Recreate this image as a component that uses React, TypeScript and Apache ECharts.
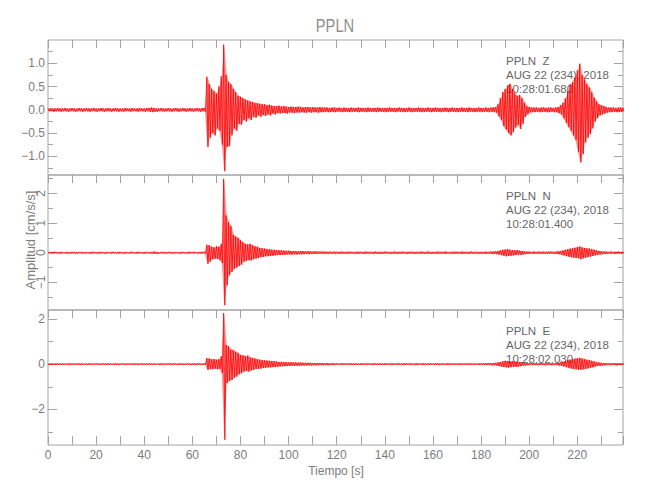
import React, { useEffect, useRef } from "react";
import * as echarts from "echarts";

// One bin per second (t = 0 .. 239 s): peak positive (HI) and peak negative (LO) amplitude, cm/s/s
const Z_HI = [
  0.03,0.04,0.03,0.03,0.04,0.03,0.03,0.04,0.03,0.03,0.04,0.03,0.03,0.04,0.03,0.03,0.04,0.03,0.03,0.04,
  0.03,0.03,0.04,0.03,0.03,0.04,0.03,0.03,0.04,0.03,0.03,0.03,0.04,0.03,0.03,0.04,0.03,0.03,0.04,0.03,
  0.03,0.04,0.04,0.05,0.04,0.03,0.03,0.04,0.03,0.03,0.04,0.03,0.03,0.04,0.03,0.03,0.04,0.03,0.03,0.04,
  0.03,0.03,0.04,0.03,0.04,0.04,0.71,0.55,0.45,0.40,0.35,0.50,0.72,1.40,0.75,0.60,0.55,0.45,0.38,0.30,
  0.28,0.25,0.22,0.20,0.18,0.17,0.15,0.14,0.13,0.12,0.12,0.10,0.11,0.09,0.08,0.08,0.09,0.07,0.08,0.07,
  0.06,0.07,0.06,0.06,0.07,0.06,0.05,0.06,0.06,0.05,0.06,0.05,0.05,0.06,0.05,0.05,0.05,0.04,0.05,0.05,
  0.04,0.05,0.04,0.05,0.04,0.04,0.05,0.04,0.04,0.05,0.04,0.04,0.04,0.05,0.04,0.04,0.04,0.05,0.04,0.04,
  0.04,0.04,0.05,0.04,0.04,0.04,0.05,0.04,0.04,0.04,0.05,0.04,0.04,0.04,0.05,0.04,0.04,0.04,0.05,0.04,
  0.04,0.05,0.04,0.04,0.04,0.05,0.04,0.04,0.05,0.04,0.04,0.04,0.05,0.04,0.04,0.05,0.04,0.04,0.04,0.05,
  0.04,0.04,0.05,0.04,0.05,0.05,0.06,0.12,0.25,0.38,0.45,0.52,0.56,0.45,0.35,0.30,0.32,0.25,0.15,0.08,
  0.06,0.05,0.05,0.05,0.04,0.05,0.05,0.04,0.05,0.05,0.04,0.05,0.06,0.10,0.15,0.25,0.40,0.55,0.60,0.70,
  0.85,0.99,0.75,0.65,0.55,0.48,0.38,0.26,0.18,0.12,0.10,0.08,0.06,0.05,0.05,0.05,0.04,0.05,0.05,0.04,
];
const Z_LO = [
  -0.03,-0.03,-0.04,-0.03,-0.03,-0.04,-0.03,-0.03,-0.04,-0.03,-0.03,-0.04,-0.03,-0.03,-0.04,-0.03,-0.03,-0.04,-0.03,-0.03,
  -0.04,-0.03,-0.03,-0.04,-0.03,-0.03,-0.04,-0.03,-0.03,-0.04,-0.03,-0.04,-0.03,-0.03,-0.04,-0.03,-0.03,-0.04,-0.03,-0.03,
  -0.04,-0.03,-0.04,-0.05,-0.04,-0.04,-0.03,-0.03,-0.04,-0.03,-0.03,-0.04,-0.03,-0.03,-0.04,-0.03,-0.03,-0.04,-0.03,-0.03,
  -0.04,-0.03,-0.03,-0.04,-0.03,-0.04,-0.80,-0.60,-0.50,-0.55,-0.40,-0.45,-0.75,-1.32,-0.80,-0.78,-0.55,-0.40,-0.45,-0.30,
  -0.32,-0.22,-0.25,-0.18,-0.22,-0.15,-0.17,-0.12,-0.15,-0.11,-0.13,-0.10,-0.12,-0.08,-0.10,-0.07,-0.08,-0.07,-0.07,-0.08,
  -0.06,-0.06,-0.07,-0.06,-0.06,-0.05,-0.06,-0.06,-0.05,-0.06,-0.05,-0.05,-0.06,-0.05,-0.05,-0.04,-0.05,-0.05,-0.04,-0.05,
  -0.04,-0.04,-0.05,-0.04,-0.04,-0.05,-0.04,-0.04,-0.04,-0.05,-0.04,-0.04,-0.05,-0.04,-0.04,-0.04,-0.05,-0.04,-0.04,-0.04,
  -0.05,-0.04,-0.04,-0.04,-0.05,-0.04,-0.04,-0.04,-0.05,-0.04,-0.04,-0.05,-0.04,-0.04,-0.04,-0.05,-0.04,-0.04,-0.04,-0.05,
  -0.04,-0.04,-0.04,-0.05,-0.04,-0.04,-0.05,-0.04,-0.04,-0.04,-0.05,-0.04,-0.04,-0.04,-0.05,-0.04,-0.04,-0.05,-0.04,-0.04,
  -0.05,-0.04,-0.04,-0.05,-0.04,-0.05,-0.06,-0.14,-0.22,-0.35,-0.42,-0.50,-0.55,-0.48,-0.38,-0.32,-0.41,-0.30,-0.15,-0.10,
  -0.06,-0.05,-0.05,-0.04,-0.05,-0.05,-0.04,-0.05,-0.05,-0.04,-0.05,-0.05,-0.07,-0.10,-0.18,-0.28,-0.37,-0.45,-0.55,-0.65,
  -0.90,-1.13,-0.95,-0.70,-0.60,-0.52,-0.40,-0.25,-0.18,-0.12,-0.10,-0.08,-0.06,-0.05,-0.05,-0.04,-0.05,-0.05,-0.04,-0.05,
];

const N_HI = [
  0.03,0.02,0.03,0.03,0.02,0.03,0.03,0.02,0.03,0.02,0.03,0.03,0.02,0.03,0.03,0.02,0.03,0.02,0.03,0.03,
  0.02,0.03,0.03,0.02,0.03,0.02,0.03,0.03,0.02,0.03,0.03,0.02,0.03,0.02,0.03,0.03,0.02,0.03,0.03,0.02,
  0.03,0.03,0.02,0.03,0.04,0.03,0.02,0.03,0.03,0.02,0.03,0.03,0.02,0.03,0.02,0.03,0.03,0.02,0.03,0.03,
  0.03,0.03,0.02,0.03,0.03,0.03,0.27,0.25,0.20,0.18,0.22,0.20,0.30,2.49,1.26,1.03,0.90,0.60,0.55,0.50,
  0.42,0.35,0.30,0.28,0.30,0.25,0.22,0.20,0.16,0.15,0.14,0.12,0.12,0.10,0.10,0.09,0.08,0.08,0.07,0.07,
  0.07,0.06,0.06,0.06,0.05,0.06,0.05,0.05,0.05,0.05,0.04,0.05,0.04,0.04,0.04,0.04,0.03,0.04,0.03,0.04,
  0.03,0.03,0.04,0.03,0.03,0.04,0.03,0.03,0.03,0.04,0.03,0.03,0.04,0.03,0.03,0.03,0.04,0.03,0.03,0.03,
  0.04,0.03,0.03,0.03,0.04,0.03,0.03,0.04,0.03,0.03,0.03,0.04,0.03,0.03,0.03,0.04,0.03,0.03,0.04,0.03,
  0.03,0.03,0.04,0.03,0.03,0.04,0.03,0.03,0.03,0.04,0.03,0.03,0.04,0.03,0.03,0.03,0.04,0.03,0.03,0.03,
  0.03,0.03,0.04,0.03,0.04,0.04,0.05,0.06,0.08,0.10,0.11,0.12,0.10,0.09,0.08,0.09,0.07,0.06,0.05,0.04,
  0.04,0.03,0.04,0.03,0.04,0.03,0.04,0.03,0.04,0.04,0.03,0.04,0.05,0.06,0.08,0.10,0.12,0.14,0.15,0.17,
  0.19,0.21,0.18,0.16,0.15,0.14,0.12,0.10,0.08,0.06,0.05,0.04,0.04,0.03,0.04,0.03,0.03,0.04,0.03,0.03,
];
const N_LO = [
  -0.02,-0.03,-0.03,-0.02,-0.03,-0.03,-0.02,-0.03,-0.03,-0.03,-0.02,-0.03,-0.03,-0.02,-0.03,-0.03,-0.02,-0.03,-0.03,-0.02,
  -0.03,-0.03,-0.02,-0.03,-0.03,-0.02,-0.03,-0.02,-0.03,-0.03,-0.02,-0.03,-0.03,-0.02,-0.03,-0.02,-0.03,-0.03,-0.02,-0.03,
  -0.03,-0.02,-0.03,-0.03,-0.03,-0.04,-0.03,-0.02,-0.03,-0.03,-0.02,-0.03,-0.03,-0.02,-0.03,-0.03,-0.02,-0.03,-0.03,-0.02,
  -0.03,-0.02,-0.03,-0.03,-0.02,-0.03,-0.37,-0.30,-0.22,-0.20,-0.20,-0.25,-0.35,-1.77,-1.10,-0.76,-0.65,-0.55,-0.50,-0.45,
  -0.40,-0.30,-0.28,-0.25,-0.26,-0.22,-0.20,-0.18,-0.15,-0.14,-0.12,-0.12,-0.11,-0.10,-0.09,-0.08,-0.08,-0.07,-0.07,-0.06,
  -0.06,-0.06,-0.05,-0.06,-0.05,-0.05,-0.05,-0.04,-0.05,-0.04,-0.04,-0.04,-0.04,-0.03,-0.04,-0.03,-0.04,-0.03,-0.03,-0.04,
  -0.03,-0.04,-0.03,-0.03,-0.04,-0.03,-0.03,-0.03,-0.04,-0.03,-0.03,-0.04,-0.03,-0.03,-0.03,-0.04,-0.03,-0.03,-0.04,-0.03,
  -0.03,-0.03,-0.04,-0.03,-0.03,-0.04,-0.03,-0.03,-0.03,-0.04,-0.03,-0.03,-0.04,-0.03,-0.03,-0.03,-0.04,-0.03,-0.03,-0.04,
  -0.03,-0.04,-0.03,-0.03,-0.03,-0.04,-0.03,-0.03,-0.04,-0.03,-0.03,-0.03,-0.04,-0.03,-0.03,-0.04,-0.03,-0.03,-0.03,-0.04,
  -0.03,-0.04,-0.03,-0.03,-0.04,-0.04,-0.05,-0.06,-0.08,-0.10,-0.12,-0.11,-0.10,-0.09,-0.08,-0.07,-0.07,-0.06,-0.05,-0.04,
  -0.03,-0.04,-0.03,-0.04,-0.03,-0.04,-0.03,-0.04,-0.03,-0.03,-0.04,-0.04,-0.05,-0.07,-0.09,-0.11,-0.13,-0.15,-0.16,-0.18,
  -0.18,-0.22,-0.19,-0.17,-0.15,-0.13,-0.11,-0.09,-0.07,-0.06,-0.05,-0.04,-0.04,-0.03,-0.03,-0.04,-0.03,-0.03,-0.04,-0.03,
];

const E_HI = [
  0.03,0.04,0.03,0.03,0.04,0.03,0.04,0.03,0.03,0.04,0.03,0.03,0.04,0.03,0.04,0.03,0.03,0.04,0.03,0.03,
  0.04,0.03,0.03,0.04,0.03,0.04,0.03,0.03,0.04,0.03,0.03,0.04,0.03,0.03,0.04,0.03,0.04,0.03,0.03,0.04,
  0.03,0.03,0.04,0.03,0.04,0.03,0.03,0.04,0.03,0.03,0.04,0.03,0.04,0.03,0.03,0.04,0.03,0.03,0.04,0.03,
  0.04,0.03,0.04,0.04,0.03,0.04,0.27,0.25,0.22,0.23,0.20,0.22,0.35,2.26,0.85,0.80,0.65,0.63,0.55,0.50,
  0.41,0.40,0.35,0.38,0.30,0.28,0.25,0.22,0.20,0.18,0.17,0.16,0.15,0.14,0.13,0.12,0.10,0.10,0.09,0.09,
  0.08,0.08,0.08,0.07,0.07,0.07,0.06,0.06,0.06,0.06,0.05,0.05,0.05,0.05,0.05,0.04,0.05,0.04,0.04,0.04,
  0.04,0.03,0.04,0.04,0.03,0.04,0.04,0.03,0.04,0.03,0.04,0.04,0.03,0.04,0.03,0.04,0.04,0.03,0.04,0.03,
  0.04,0.04,0.03,0.04,0.03,0.04,0.04,0.03,0.04,0.04,0.03,0.04,0.03,0.04,0.04,0.03,0.04,0.03,0.04,0.04,
  0.03,0.04,0.04,0.03,0.04,0.03,0.04,0.04,0.03,0.04,0.03,0.04,0.04,0.03,0.04,0.04,0.03,0.04,0.03,0.04,
  0.04,0.04,0.04,0.05,0.04,0.05,0.06,0.08,0.10,0.13,0.15,0.14,0.12,0.13,0.11,0.12,0.10,0.08,0.06,0.05,
  0.04,0.04,0.05,0.04,0.04,0.05,0.04,0.04,0.05,0.04,0.04,0.05,0.06,0.08,0.10,0.14,0.18,0.20,0.22,0.25,
  0.26,0.28,0.25,0.22,0.20,0.18,0.15,0.12,0.09,0.07,0.06,0.05,0.05,0.04,0.04,0.05,0.04,0.04,0.04,0.04,
];
const E_LO = [
  -0.04,-0.03,-0.03,-0.04,-0.03,-0.04,-0.03,-0.03,-0.04,-0.03,-0.04,-0.03,-0.03,-0.04,-0.03,-0.03,-0.04,-0.03,-0.04,-0.03,
  -0.03,-0.04,-0.03,-0.03,-0.04,-0.03,-0.03,-0.04,-0.03,-0.04,-0.03,-0.03,-0.04,-0.03,-0.03,-0.04,-0.03,-0.04,-0.03,-0.03,
  -0.04,-0.03,-0.03,-0.04,-0.03,-0.03,-0.04,-0.03,-0.04,-0.03,-0.03,-0.04,-0.03,-0.03,-0.04,-0.03,-0.04,-0.03,-0.03,-0.04,
  -0.04,-0.04,-0.03,-0.04,-0.04,-0.03,-0.25,-0.22,-0.22,-0.20,-0.22,-0.21,-0.40,-3.35,-0.84,-0.75,-0.70,-0.60,-0.55,-0.45,
  -0.40,-0.33,-0.30,-0.33,-0.28,-0.25,-0.22,-0.20,-0.20,-0.17,-0.16,-0.15,-0.14,-0.13,-0.12,-0.11,-0.10,-0.09,-0.09,-0.08,
  -0.08,-0.07,-0.08,-0.07,-0.07,-0.06,-0.06,-0.06,-0.05,-0.06,-0.05,-0.05,-0.05,-0.04,-0.05,-0.04,-0.05,-0.04,-0.04,-0.04,
  -0.03,-0.04,-0.04,-0.03,-0.04,-0.03,-0.04,-0.04,-0.03,-0.04,-0.04,-0.03,-0.04,-0.03,-0.04,-0.04,-0.03,-0.04,-0.03,-0.04,
  -0.04,-0.03,-0.04,-0.04,-0.03,-0.04,-0.03,-0.04,-0.04,-0.03,-0.04,-0.03,-0.04,-0.04,-0.03,-0.04,-0.04,-0.03,-0.04,-0.03,
  -0.04,-0.03,-0.04,-0.04,-0.03,-0.04,-0.04,-0.03,-0.04,-0.03,-0.04,-0.04,-0.03,-0.04,-0.03,-0.04,-0.04,-0.03,-0.04,-0.04,
  -0.03,-0.04,-0.04,-0.04,-0.05,-0.05,-0.06,-0.08,-0.11,-0.12,-0.14,-0.15,-0.13,-0.12,-0.12,-0.11,-0.09,-0.07,-0.06,-0.05,
  -0.04,-0.04,-0.04,-0.05,-0.04,-0.04,-0.05,-0.04,-0.04,-0.05,-0.04,-0.04,-0.06,-0.07,-0.10,-0.13,-0.16,-0.19,-0.21,-0.23,
  -0.24,-0.25,-0.23,-0.21,-0.19,-0.16,-0.14,-0.11,-0.08,-0.07,-0.06,-0.05,-0.04,-0.05,-0.04,-0.04,-0.05,-0.04,-0.04,-0.04,
];

// Axes
const X_MIN = 0;
const X_MAX = 239;
const X_TICK_STEP = 10;
const X_LABEL_STEP = 20;

const Z_RANGE = [-1.4, 1.5];
const N_RANGE = [-1.93, 2.62];
const E_RANGE = [-3.58, 2.4];
const Z_MAJOR = [-1, -0.5, 0, 0.5, 1];
const Z_MINOR = [-1.25, -0.75, -0.25, 0.25, 0.75, 1.25];
const N_MAJOR = [-1, 0, 1, 2];
const N_MINOR = [-1.5, -0.5, 0.5, 1.5, 2.5];
const E_MAJOR = [-2, 0, 2];
const E_MINOR = [-3, -1, 1];

const STATION = "PPLN";
const COMPONENTS = ["Z", "N", "E"];
const DATE_LINE = "AUG 22 (234), 2018";
const START_TIMES = ["10:28:01.680", "10:28:01.400", "10:28:02.030"];
const TITLE = "PPLN";
const Y_NAME = "Amplitud [cm/s/s]";
const X_NAME = "Tiempo [s]";

const FONT = "'Liberation Sans', 'DejaVu Sans', Arial, sans-serif";
const AXIS_GRAY = "#a3a3a3";
const LABEL_GRAY = "#7c7c7c";
const TRACE_RED = "#ff0000";

function trace(hi: number[], lo: number[]) {
  const out: number[][] = [];
  hi.forEach((h, i) => {
    out.push([i, h]);
    out.push([i + 0.5, lo[i]]);
  });
  return out;
}

const fmtSigned = (digits: number) => (v: number) => {
  const s = Math.abs(v).toFixed(digits);
  return v < 0 ? "\u2212" + s : s;
};

export default function App() {
  const ref = useRef<HTMLDivElement>(null);

  useEffect(() => {
    document.body.style.margin = "0";
    if (!ref.current) return;
    const chart = echarts.init(ref.current, undefined, { renderer: "svg" });

    const panels = [
      { hi: Z_HI, lo: Z_LO, range: Z_RANGE, major: Z_MAJOR, minor: Z_MINOR, fmt: fmtSigned(1), rot: 0, margin: 3 },
      { hi: N_HI, lo: N_LO, range: N_RANGE, major: N_MAJOR, minor: N_MINOR, fmt: fmtSigned(0), rot: 90, margin: 1 },
      { hi: E_HI, lo: E_LO, range: E_RANGE, major: E_MAJOR, minor: E_MINOR, fmt: fmtSigned(0), rot: 0, margin: 3 },
    ];
    const GRID_LEFT = 48;
    const GRID_W = 575;
    const GRID_TOP = 40;
    const GRID_H = 135;

    const grids = panels.map((_, g) => ({
      left: GRID_LEFT,
      top: GRID_TOP + g * GRID_H,
      width: GRID_W,
      height: GRID_H,
      show: true,
      borderColor: AXIS_GRAY,
      borderWidth: 1,
      backgroundColor: "transparent",
    }));

    const xBase = {
      type: "value",
      min: X_MIN,
      max: X_MAX,
      interval: X_TICK_STEP,
      axisLine: { show: false, onZero: false },
      splitLine: { show: false },
    };
    const xAxes: any[] = panels.map((_, g) => ({
      ...xBase,
      gridIndex: g,
      position: "top",
      axisTick: { inside: true, length: 8, lineStyle: { color: AXIS_GRAY } },
      axisLabel: { show: false },
    }));
    xAxes.push({
      ...xBase,
      gridIndex: 2,
      position: "bottom",
      axisTick: { inside: true, length: 9, lineStyle: { color: AXIS_GRAY } },
      axisLabel: {
        color: LABEL_GRAY,
        fontSize: 12,
        fontFamily: FONT,
        margin: 4,
        formatter: (v: number) => (v % X_LABEL_STEP === 0 ? String(v) : ""),
      },
    });

    const yAxes: any[] = [];
    panels.forEach((p, g) => {
      const base = {
        type: "value",
        gridIndex: g,
        min: p.range[0],
        max: p.range[1],
        axisLine: { show: false, onZero: false },
        splitLine: { show: false },
      };
      (["left", "right"] as const).forEach((pos) => {
        yAxes.push({
          ...base,
          position: pos,
          axisTick: { inside: true, length: 9, customValues: p.major, lineStyle: { color: AXIS_GRAY } },
          axisLabel:
            pos === "left"
              ? {
                  customValues: p.major,
                  formatter: p.fmt,
                  color: LABEL_GRAY,
                  fontSize: 12,
                  fontFamily: FONT,
                  margin: p.margin,
                  rotate: p.rot,
                }
              : { show: false },
        });
        yAxes.push({
          ...base,
          position: pos,
          axisTick: { inside: true, length: 5, customValues: p.minor, lineStyle: { color: AXIS_GRAY } },
          axisLabel: { show: false },
        });
      });
    });

    const series: any[] = [];
    panels.forEach((p, g) => {
      const xi = g === 2 ? 3 : g;
      const yi = g * 4;
      // envelope: upper and lower peak curves, each filled towards zero
      [p.hi, p.lo].forEach((arr) => {
        series.push({
          type: "line",
          xAxisIndex: xi,
          yAxisIndex: yi,
          data: arr.map((v, i) => [i + 0.25, v]),
          showSymbol: false,
          symbol: "none",
          silent: true,
          z: 2,
          lineStyle: { width: 0, opacity: 0 },
          areaStyle: { color: TRACE_RED, opacity: 0.42, origin: 0 },
        });
      });
      series.push({
        type: "line",
        xAxisIndex: xi,
        yAxisIndex: yi,
        data: trace(p.hi, p.lo),
        showSymbol: false,
        symbol: "none",
        silent: true,
        z: 3,
        lineStyle: { color: TRACE_RED, width: 0.8 },
      });
    });

    const texts: any[] = [
      {
        type: "text",
        x: 335,
        y: 25,
        scaleX: 0.82,
        z: 1,
        style: { text: TITLE, fill: "#8f8f8f", font: `18px ${FONT}`, align: "center", verticalAlign: "middle" },
      },
      {
        type: "text",
        x: 30,
        y: 240,
        rotation: Math.PI / 2,
        z: 1,
        style: { text: Y_NAME, fill: LABEL_GRAY, font: `13px ${FONT}`, align: "center", verticalAlign: "middle" },
      },
      {
        type: "text",
        x: 336,
        y: 471,
        z: 1,
        style: { text: X_NAME, fill: LABEL_GRAY, font: `12px ${FONT}`, align: "center", verticalAlign: "middle" },
      },
    ];
    COMPONENTS.forEach((c, g) => {
      const lines = [`${STATION}  ${c}`, DATE_LINE, START_TIMES[g]];
      lines.forEach((t, k) => {
        texts.push({
          type: "text",
          x: 506,
          y: 61 + g * GRID_H + k * 14,
          z: 1,
          style: { text: t, fill: "#666666", font: `11.5px ${FONT}`, align: "left", verticalAlign: "middle" },
        });
      });
    });

    chart.setOption({
      animation: false,
      backgroundColor: "#ffffff",
      textStyle: { fontFamily: FONT },
      grid: grids,
      xAxis: xAxes,
      yAxis: yAxes,
      series,
      graphic: texts,
    });

    return () => chart.dispose();
  }, []);

  return <div ref={ref} style={{ width: 650, height: 500 }} />;
}
